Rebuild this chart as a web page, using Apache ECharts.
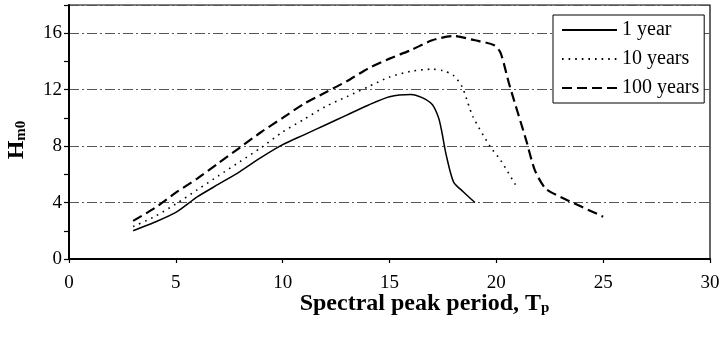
<!DOCTYPE html>
<html>
<head>
<meta charset="utf-8">
<script src="https://cdn.jsdelivr.net/npm/echarts@6/dist/echarts.min.js"></script>
<style>html,body{margin:0;padding:0;background:#fff}#c{width:721px;height:337px}</style>
</head>
<body>
<div id="c"></div>
<script>
// Data
const seriesNames = ['1 year', '10 years', '100 years'];
const tYear1 = [3, 4, 5, 6, 7, 8, 9, 10, 11, 12, 13, 14, 15, 16, 16.5, 17, 17.3, 17.45, 17.65, 18, 18.45, 19];
const hYear1 = [2.0, 2.6, 3.3, 4.4, 5.3, 6.2, 7.2, 8.1, 8.8, 9.5, 10.2, 10.9, 11.5, 11.66, 11.45, 10.95, 10.0, 9.0, 7.4, 5.45, 4.77, 4.0];
const tYear10 = [3, 4, 5, 6, 7, 8, 9, 10, 11, 12, 13, 14, 15, 16, 17, 17.5, 18, 18.4, 18.9, 19.7, 20.2, 21];
const hYear10 = [2.3, 3.0, 3.9, 4.9, 5.9, 6.9, 7.9, 9.0, 9.9, 10.8, 11.5, 12.2, 12.9, 13.3, 13.45, 13.35, 13.0, 12.2, 10.1, 8.0, 7.0, 5.0];
const tYear100 = [3, 4, 5, 6, 7, 8, 9, 10, 11, 12, 13, 14, 15, 16, 17, 18, 19, 19.9, 20.2, 20.6, 21.4, 21.8, 22.3, 23, 25];
const hYear100 = [2.7, 3.6, 4.7, 5.7, 6.8, 7.9, 9.0, 10.0, 11.0, 11.8, 12.6, 13.5, 14.2, 14.8, 15.5, 15.8, 15.5, 15.15, 14.6, 12.4, 8.4, 6.3, 5.0, 4.4, 3.0];
const xTicks = [0, 5, 10, 15, 20, 25, 30];
const yTicks = [0, 4, 8, 12, 16];

const zip = (t, h) => t.map((v, i) => [v, h[i]]);
const serif = '"Liberation Serif", "Times New Roman", serif';

const chart = echarts.init(document.getElementById('c'), null, {renderer: 'canvas'});
chart.setOption({
  animation: false,
  backgroundColor: '#fff',
  textStyle: {fontFamily: serif, color: '#000'},
  grid: {left: 69, right: 11, top: 5, bottom: 78, show: true, borderColor: '#000', borderWidth: 1.2,
    containLabel: false, outerBoundsMode: 'none'},
  legend: {
    data: seriesNames,
    orient: 'vertical',
    left: 553, top: 15,
    itemWidth: 55, itemHeight: 20, itemGap: 9, itemTextGap: 3,
    padding: [5, 5, 5, 8],
    backgroundColor: '#fff', borderColor: '#000', borderWidth: 1,
    borderRadius: 0,
    itemStyle: {opacity: 0},
    textStyle: {fontFamily: serif, fontSize: 20, color: '#000'}
  },
  xAxis: {
    type: 'value', min: xTicks[0], max: xTicks[xTicks.length - 1], interval: 5,
    axisLine: {show: true, lineStyle: {color: '#000', width: 2}},
    axisTick: {show: true, inside: false, length: 4, lineStyle: {color: '#000', width: 1.2}},
    axisLabel: {fontFamily: serif, fontSize: 19, color: '#000', margin: 15},
    splitLine: {show: false},
    name: '{b|Spectral peak period, T}{s|p}',
    nameLocation: 'middle', nameGap: 27, nameMoveOverlap: false,
    nameTextStyle: {
      padding: [0, 0, 0, 70],
      rich: {
        b: {fontFamily: serif, fontSize: 24, fontWeight: 'bold', color: '#000', lineHeight: 30, verticalAlign: 'bottom'},
        s: {fontFamily: serif, fontSize: 15, fontWeight: 'bold', color: '#000', lineHeight: 17, verticalAlign: 'bottom'}
      }
    }
  },
  yAxis: [{
    type: 'value', min: 0, max: 18, interval: 4, position: 'left', offset: 0,
    axisLine: {show: true, lineStyle: {color: '#000', width: 2}},
    axisTick: {show: false},
    axisLabel: {fontFamily: serif, fontSize: 19, color: '#000', margin: 7,
      formatter: v => (yTicks.indexOf(v) >= 0 ? String(v) : '')},
    splitLine: {show: true, lineStyle: {color: '#555', width: 1, type: [10, 3, 2, 3]}},
    name: '{b|H}{s|m0}',
    nameLocation: 'middle', nameGap: 40,
    nameTextStyle: {
      padding: [0, 16, 0, 0],
      rich: {
        b: {fontFamily: serif, fontSize: 24, fontWeight: 'bold', color: '#000', lineHeight: 30, verticalAlign: 'bottom'},
        s: {fontFamily: serif, fontSize: 15, fontWeight: 'bold', color: '#000', lineHeight: 17, verticalAlign: 'bottom'}
      }
    }
  }, {
    type: 'value', min: 0, max: 18, interval: 2, position: 'left', offset: 0,
    axisLine: {show: false},
    axisTick: {show: true, inside: false, length: 5, lineStyle: {color: '#000', width: 1.2}},
    axisLabel: {show: false},
    splitLine: {show: false}
  }],
  series: [{
    name: seriesNames[0], type: 'line', data: zip(tYear1, hYear1), yAxisIndex: 0,
    symbol: 'none', smooth: 0.25,
    lineStyle: {color: '#000', width: 1.5, type: 'solid'}, itemStyle: {color: '#000'}
  }, {
    name: seriesNames[1], type: 'line', data: zip(tYear10, hYear10), yAxisIndex: 0,
    symbol: 'none', smooth: 0.25,
    lineStyle: {color: '#000', width: 1.6, type: [1.6, 5]}, itemStyle: {color: '#000'}
  }, {
    name: seriesNames[2], type: 'line', data: zip(tYear100, hYear100), yAxisIndex: 0,
    symbol: 'none', smooth: 0.25,
    lineStyle: {color: '#000', width: 2.2, type: [10, 5]}, itemStyle: {color: '#000'}
  }]
});
</script>
</body>
</html>
